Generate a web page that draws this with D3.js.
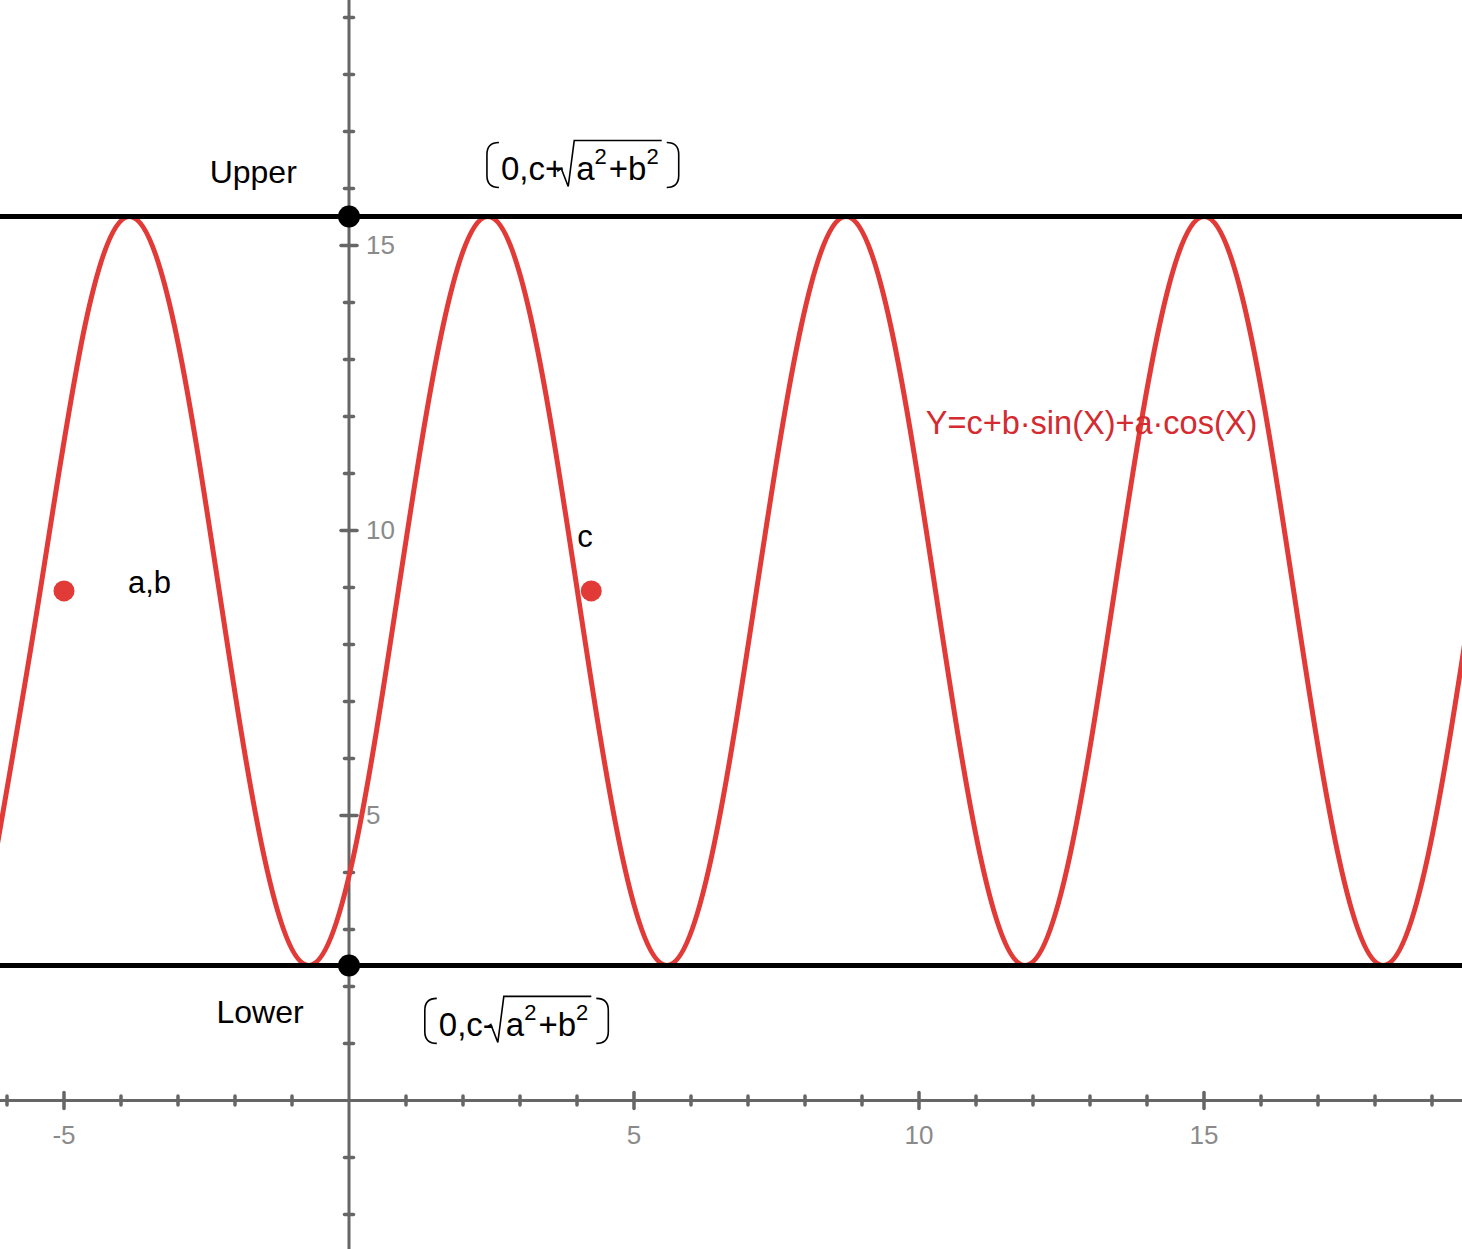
<!DOCTYPE html>
<html>
<head>
<meta charset="utf-8">
<script src="https://cdn.jsdelivr.net/npm/d3@7"></script>
<style>
  body { margin: 0; background: #fff; }
  text { font-family: "Liberation Sans", Helvetica, Arial, sans-serif; }
</style>
</head>
<body>
<div class="chart"></div>
<script>

// Curve samples (every eighth of a period)
var curveX = [-6.204, -5.418, -4.633, -3.847, -3.062, -2.277, -1.491, -0.706,
              0.080, 0.865, 1.650, 2.436, 3.221, 4.007, 4.792, 5.577,
              6.363, 7.148, 7.934, 8.719, 9.504, 10.290, 11.075, 11.861,
              12.646, 13.431, 14.217, 15.002, 15.787, 16.573, 17.358, 18.144,
              18.929, 19.715];
var curveY = [4.29, 8.94, 13.59, 15.51, 13.59, 8.94, 4.29, 2.37,
              4.29, 8.94, 13.59, 15.51, 13.59, 8.94, 4.29, 2.37,
              4.29, 8.94, 13.59, 15.51, 13.59, 8.94, 4.29, 2.37,
              4.29, 8.94, 13.59, 15.51, 13.59, 8.94, 4.29, 2.37,
              4.29, 8.94];

// Upper / lower bounds
var boundNames = ["Upper", "Lower"];
var boundY = [15.51, 2.37];
var boundSigns = ["+", "-"];

// Free points
var pointNames = ["a,b", "c"];
var pointX = [-5, 4.25];
var pointY = [8.94, 8.94];

// Axis labels
var xTickLabels = [-5, 5, 10, 15];
var yTickLabels = [5, 10, 15];

var formulaText = "Y=c+b\u00b7sin(X)+a\u00b7cos(X)";

var width = 1462, height = 1249;
var axisColor = "#666666", labelColor = "#8a8a8a";
var curveColor = "#e23a37", formulaColor = "#d42a30";

var x = d3.scaleLinear().domain([-6.1228, 19.5263]).range([0, width]);
var y = d3.scaleLinear().domain([-2.6053, 19.307]).range([height, 0]);

var svg = d3.select(".chart")
  .append("svg")
    .attr("width", width)
    .attr("height", height);

// Axes: gray lines with ticks crossing them
var axes = svg.append("g").attr("class", "axes");
var xInts = d3.range(Math.ceil(x.domain()[0]), x.domain()[1]).filter(function(d) { return d != 0; });
var yInts = d3.range(Math.ceil(y.domain()[0]), y.domain()[1]).filter(function(d) { return d != 0; });

axes.append("line")
  .attr("x1", 0).attr("x2", width)
  .attr("y1", y(0)).attr("y2", y(0))
  .style("stroke", axisColor).style("stroke-width", 3);
axes.append("line")
  .attr("x1", x(0)).attr("x2", x(0))
  .attr("y1", 0).attr("y2", height)
  .style("stroke", axisColor).style("stroke-width", 3);

axes.selectAll(".xtick")
  .data(xInts)
  .enter().append("line")
  .attr("class", "xtick")
  .attr("x1", function(d) { return x(d); })
  .attr("x2", function(d) { return x(d); })
  .attr("y1", function(d) { return y(0) - (d % 5 == 0 ? 8 : 4.5); })
  .attr("y2", function(d) { return y(0) + (d % 5 == 0 ? 8 : 4.5); })
  .style("stroke", axisColor).style("stroke-width", 3.5)
  .style("stroke-linecap", "round");

axes.selectAll(".ytick")
  .data(yInts)
  .enter().append("line")
  .attr("class", "ytick")
  .attr("y1", function(d) { return y(d); })
  .attr("y2", function(d) { return y(d); })
  .attr("x1", function(d) { return x(0) - (d % 5 == 0 ? 8 : 4.5); })
  .attr("x2", function(d) { return x(0) + (d % 5 == 0 ? 8 : 4.5); })
  .style("stroke", axisColor).style("stroke-width", 3.5)
  .style("stroke-linecap", "round");

axes.selectAll(".xlabel")
  .data(xTickLabels)
  .enter().append("text")
  .attr("class", "xlabel")
  .attr("x", function(d) { return x(d); })
  .attr("y", y(0) + 44)
  .attr("text-anchor", "middle")
  .style("font-size", "26px")
  .style("fill", labelColor)
  .text(function(d) { return d; });

axes.selectAll(".ylabel")
  .data(yTickLabels)
  .enter().append("text")
  .attr("class", "ylabel")
  .attr("x", x(0) + 17)
  .attr("y", function(d) { return y(d) + 9; })
  .style("font-size", "26px")
  .style("fill", labelColor)
  .text(function(d) { return d; });

// The sinusoid
var line = d3.line()
  .x(function(d, i) { return x(curveX[i]); })
  .y(function(d) { return y(d); })
  .curve(d3.curveNatural);

svg.append("path")
  .attr("d", line(curveY))
  .style("fill", "none")
  .style("stroke", curveColor)
  .style("stroke-width", 5)
  .style("stroke-linejoin", "round");

// Bound lines and their points on the y axis
svg.selectAll(".bound")
  .data(boundY)
  .enter().append("line")
  .attr("class", "bound")
  .attr("x1", 0).attr("x2", width)
  .attr("y1", function(d) { return y(d); })
  .attr("y2", function(d) { return y(d); })
  .style("stroke", "#000").style("stroke-width", 5);

svg.selectAll(".bdot")
  .data(boundY)
  .enter().append("circle")
  .attr("class", "bdot")
  .attr("cx", x(0))
  .attr("cy", function(d) { return y(d); })
  .attr("r", 11)
  .style("fill", "#000");

// Bound names
svg.selectAll(".bname")
  .data(boundNames)
  .enter().append("text")
  .attr("class", "bname")
  .attr("x", function(d, i) { return x(i == 0 ? -1.68 : -1.56); })
  .attr("y", function(d, i) { return y(boundY[i]) + (i == 0 ? -33 : 58); })
  .attr("text-anchor", "middle")
  .style("font-size", "32px")
  .text(function(d) { return d; });

// Coordinate labels (0, c ± sqrt(a^2+b^2))
function radicalLabel(px, base, sign) {
    var g = svg.append("g");
    var big = 33, small = 22;

    var t0 = g.append("text")
      .attr("x", px + 14).attr("y", base)
      .style("font-size", big + "px")
      .text("0,c" + sign);
    var rx = px + 14 + t0.node().getComputedTextLength();

    // a^2 + b^2 under the radical sign
    var cx = rx + 12;
    var parts = [["a", big, 0, 0], ["2", small, -16, 2], ["+b", big, 0, 0], ["2", small, -16, 2]];
    parts.forEach(function(p) {
        var t = g.append("text")
          .attr("x", cx).attr("y", base + p[2])
          .style("font-size", p[1] + "px")
          .text(p[0]);
        cx += t.node().getComputedTextLength() + p[3];
    });

    g.append("path")
      .attr("d", "M" + (rx - 7) + "," + (base - 9) +
                 "L" + (rx - 3) + "," + (base - 12) +
                 "L" + (rx + 4) + "," + (base + 6) +
                 "L" + (rx + 10) + "," + (base - 40) +
                 "L" + (cx + 1) + "," + (base - 40))
      .style("fill", "none").style("stroke", "#000").style("stroke-width", 1.6);

    var top = base - 38, bot = base + 7, qx = cx + 6;
    g.append("path")
      .attr("d", "M" + (px + 12) + "," + top + "Q" + px + "," + top + " " + px + "," + (top + 12) +
                 "L" + px + "," + (bot - 12) + "Q" + px + "," + bot + " " + (px + 12) + "," + bot +
                 "M" + (qx) + "," + top + "Q" + (qx + 12) + "," + top + " " + (qx + 12) + "," + (top + 12) +
                 "L" + (qx + 12) + "," + (bot - 12) + "Q" + (qx + 12) + "," + bot + " " + qx + "," + bot)
      .style("fill", "none").style("stroke", "#000").style("stroke-width", 1.6);
}

radicalLabel(x(2.42), y(boundY[0]) - 36, boundSigns[0]);
radicalLabel(x(1.33), y(boundY[1]) + 71, boundSigns[1]);

// Free points and their names
svg.selectAll(".pdot")
  .data(pointX)
  .enter().append("circle")
  .attr("class", "pdot")
  .attr("cx", function(d) { return x(d); })
  .attr("cy", function(d, i) { return y(pointY[i]); })
  .attr("r", 10.5)
  .style("fill", curveColor);

svg.selectAll(".pname")
  .data(pointNames)
  .enter().append("text")
  .attr("class", "pname")
  .attr("x", function(d, i) { return x(pointX[i]) + (i == 0 ? 64 : -14); })
  .attr("y", function(d, i) { return y(pointY[i]) + (i == 0 ? 2 : -44); })
  .style("font-size", "31px")
  .text(function(d) { return d; });

// Formula of the curve
svg.append("text")
  .attr("x", x(10.12))
  .attr("y", y(11.69))
  .style("font-size", "32.5px")
  .style("fill", formulaColor)
  .text(formulaText);

</script>
</body>
</html>
